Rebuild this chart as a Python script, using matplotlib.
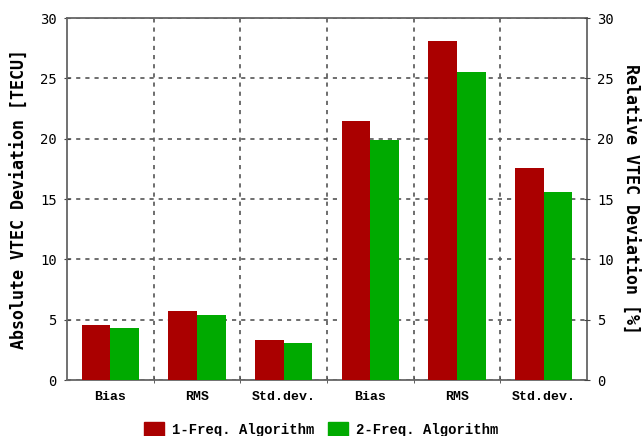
import numpy as np
import matplotlib.pyplot as plt
from matplotlib.patches import Patch

categories = ['Bias', 'RMS', 'Std.dev.', 'Bias', 'RMS', 'Std.dev.']
freq1 = [4.6, 5.7, 3.3, 21.5, 28.1, 17.6]
freq2 = [4.35, 5.4, 3.05, 19.9, 25.5, 15.6]
series_names = ['1-Freq. Algorithm', '2-Freq. Algorithm']

red = '#aa0000'
green = '#00aa00'
mono = 'Liberation Mono'

fig = plt.figure(figsize=(6.43, 4.36), dpi=100)
ax = fig.add_axes([0.1042, 0.1284, 0.8087, 0.8303])

x = np.arange(len(categories))
w = 0.33
ax.bar(x - w / 2, freq1, w, color=red, zorder=3)
ax.bar(x + w / 2, freq2, w, color=green, zorder=3)

ax.set_xlim(-0.5, len(categories) - 0.5)
ax.set_ylim(0, 30)
ax.set_yticks(range(0, 31, 5))
ax.set_xticks(x)
ax.set_xticklabels(categories, fontfamily=mono, fontweight='bold', fontsize=9.5)
ax.set_xticks(np.arange(0.5, len(categories) - 0.5), minor=True)

ax.tick_params(axis='x', which='major', length=0, pad=8)
ax.tick_params(axis='x', which='minor', length=5, color='#444444', direction='inout')
ax.tick_params(axis='y', length=5, color='#444444', direction='inout', pad=5)
for lab in ax.get_yticklabels():
    lab.set_fontfamily('DejaVu Sans Mono')
    lab.set_fontsize(10)

dash = (0, (2.5, 3))
ax.grid(axis='y', which='major', linestyle=dash, color='#555555', linewidth=1.2, zorder=1)
ax.grid(axis='x', which='minor', linestyle=dash, color='#555555', linewidth=1.2, zorder=1)

for s in ax.spines.values():
    s.set_color('#666666')
    s.set_linewidth(1.3)

ax.set_ylabel('Absolute VTEC Deviation [TECU]', fontfamily='DejaVu Sans Mono',
              fontweight='bold', fontsize=12, labelpad=8)

ax2 = ax.twinx()
ax2.set_ylim(0, 30)
ax2.set_yticks(range(0, 31, 5))
ax2.tick_params(axis='y', length=5, color='#444444', direction='inout', pad=5)
for lab in ax2.get_yticklabels():
    lab.set_fontfamily('DejaVu Sans Mono')
    lab.set_fontsize(10)
for s in ax2.spines.values():
    s.set_visible(False)
ax2.set_ylabel('Relative VTEC Deviation [%]', fontfamily='DejaVu Sans Mono',
               fontweight='bold', fontsize=12, rotation=-90, labelpad=18)

handles = [Patch(color=red), Patch(color=green)]
fig.legend(handles, series_names, loc='lower center', bbox_to_anchor=(0.5, -0.03),
           ncol=2, frameon=False, handlelength=1.4, handleheight=1.1,
           columnspacing=1.0, handletextpad=0.6,
           prop={'family': mono, 'weight': 'bold', 'size': 10})

fig.savefig('out.png', dpi=100)
